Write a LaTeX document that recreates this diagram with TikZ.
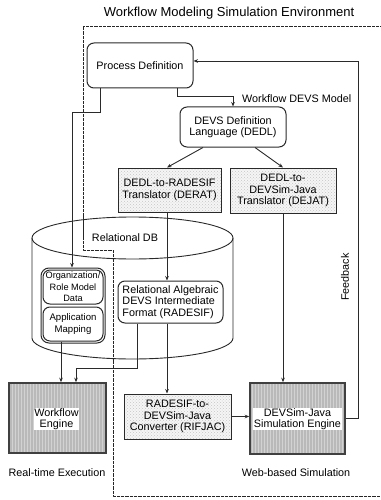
\documentclass[tikz,border=0pt]{standalone}
\usepackage{fontspec}
\setmainfont{Liberation Sans}
\usetikzlibrary{patterns,arrows.meta,calc}
\definecolor{ln}{HTML}{2A2A2A}
\tikzset{
  txt/.style={font=\fontsize{10.8}{11.5}\selectfont, inner sep=0pt},
  rbox/.style={draw=ln, line width=1pt, rounded corners=7pt, align=center, inner sep=0pt, txt},
  dbox/.style={draw=ln, line width=1pt, align=center, inner sep=0pt, txt,
    preaction={fill=gray!8}, pattern=crosshatch dots, pattern color=gray!45},
  engbox/.style={draw=black!75, line width=1.6pt, inner sep=0pt,
    preaction={fill=gray!55}, pattern=vertical lines, pattern color=gray!35},
  engtxt/.style={txt, fill=white, inner sep=0.6pt, align=center},
  conn/.style={draw=ln, line width=0.9pt},
  arr/.style={conn, -{Stealth[length=4.5pt,width=3.6pt]}},
  envline/.style={draw=black!85, line width=0.8pt, dash pattern=on 0.45pt off 0.85pt},
}
\begin{document}
\begin{tikzpicture}[x=1pt,y=-1pt]
\useasboundingbox (0,0) rectangle (380,500);
% environment boundary
\draw[envline] (380,26) -- (83,26) -- (83,250) -- (113,250) -- (113,496) -- (380,496);
\node[txt, font=\fontsize{13}{14}\selectfont] (title) at (229,13) {Workflow Modeling Simulation Environment};
% cylinder
\draw[conn, fill=white] (32,238) -- (32,338) arc[start angle=180, end angle=0, x radius=100.5, y radius=21] -- (233,238);
\draw[conn] (132.5,238) ellipse[x radius=100.5, y radius=21];
\draw[envline] (83,216) -- (83,250) -- (113,250) -- (113,362);
\node[txt] (rdb) at (125,238) {Relational DB};
% nodes
\node[rbox, minimum width=106pt, minimum height=45pt] (procdef) at (140,65.5) {Process Definition};
\node[rbox, minimum width=106pt, minimum height=40pt] (dedl) at (233,127) {DEVS Definition\\Language (DEDL)};
\node[dbox, minimum width=103pt, minimum height=44pt] (derat) at (169.5,190) {DEDL-to-RADESIF\\Translator (DERAT)};
\node[dbox, minimum width=106pt, minimum height=45pt] (dejat) at (283,190.5) {DEDL-to-\\DEVSim-Java\\Translator (DEJAT)};
\node[rbox, minimum width=105pt, minimum height=42pt, align=left] (radesif) at (170.5,302) {Relational Algebraic\\DEVS Intermediate\\Format (RADESIF)};
\node[draw=ln, line width=1pt, rounded corners=8pt, minimum width=64pt, minimum height=75pt, inner sep=0pt] (orgouter) at (73,305.5) {};
\node[rbox, font=\fontsize{9.2}{11.5}\selectfont, minimum width=60pt, minimum height=34pt] (org) at (73,287) {Organization/\\Role Model\\Data};
\node[rbox, font=\fontsize{9.6}{11.5}\selectfont, minimum width=60pt, minimum height=34pt] (app) at (73,324) {Application\\Mapping};
\node[engbox, minimum width=97pt, minimum height=70pt] (weng) at (57.5,418) {};
\node[engtxt] (wengt) at (56.5,419) {Workflow\\Engine};
\node[dbox, minimum width=107pt, minimum height=45pt] (rifjac) at (177.5,416.5) {RADESIF-to-\\DEVSim-Java\\Converter (RIFJAC)};
\node[engbox, minimum width=95pt, minimum height=71pt] (deveng) at (297.5,418.5) {};
\node[engtxt] (devengt) at (297.5,419) {DEVSim-Java\\Simulation Engine};
\node[txt] (rte) at (57,473) {Real-time Execution};
\node[txt] (wbs) at (296,473) {Web-based Simulation};
\node[txt, rotate=90] (fbl) at (345,277) {Feedback};
% coordinates
\coordinate (fb) at (358,61);
\coordinate (k1) at (177,96);
\coordinate (k2) at (100,112);
\coordinate (k3) at (72,112);
\coordinate (xa) at (167,0);
\coordinate (xb) at (61,0);
\coordinate (k4) at (137,368);
\coordinate (k5) at (76,368);
% connectors
\draw[arr] (deveng.east) -| (fb) -- (procdef.east |- fb);
\draw[arr] (procdef.south -| k1) -- (k1) -| (dedl.north);
\node[txt, anchor=west] (wdm) at (242,99) {Workflow DEVS Model};
\draw[arr] (procdef.south -| k2) |- (k3) -- (orgouter.north -| k3);
\draw[arr] ($(dedl.south)+(-30,0)$) -- ($(derat.north)+(-2.5,0)$);
\draw[arr] ($(dedl.south)+(22,0)$) -- (dejat.north);
\draw[arr] (derat.south -| xa) -- (radesif.north -| xa);
\draw[arr] (radesif.south -| xa) -- (rifjac.north -| xa);
\draw[arr] (dejat.south) -- (deveng.north -| dejat.south);
\draw[arr] (rifjac.east) -- (deveng.west |- rifjac.east);
\draw[arr] (app.south -| xb) -- (weng.north -| xb);
\draw[arr] (radesif.south -| k4) -- (k4) -- (k5) -- (weng.north -| k5);
\end{tikzpicture}
\end{document}
